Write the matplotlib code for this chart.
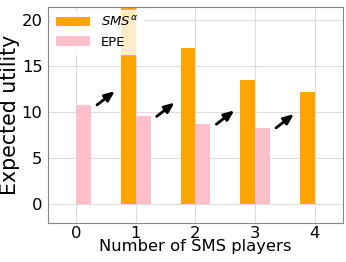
import matplotlib
matplotlib.use("Agg")
import matplotlib.pyplot as plt
import numpy as np

players = [0, 1, 2, 3, 4]
sms_x = [1, 2, 3, 4]
sms_vals = [21.6, 16.9, 13.5, 12.15]
epe_x = [0, 1, 2, 3]
epe_vals = [10.75, 9.5, 8.65, 8.25]

fig = plt.figure(figsize=(3.46, 2.62), dpi=100)
ax = fig.add_axes([0.139, 0.149, 0.852, 0.824])

w = 0.25
ax.bar(np.array(sms_x) - w, sms_vals, width=w, align='edge', color='orange', label=r'$SMS^{\alpha}$', zorder=2)
ax.bar(epe_x, epe_vals, width=w, align='edge', color='pink', label='EPE', zorder=2)

for x0, y0 in zip(epe_x, epe_vals):
    ax.annotate('', xy=(x0 + 0.65, y0 + 1.5), xytext=(x0 + 0.35, y0),
                arrowprops=dict(arrowstyle='-|>,head_width=0.25,head_length=0.6', color='black',
                                lw=2.0, mutation_scale=10, shrinkA=0, shrinkB=0), zorder=3)

ax.set_xlim(-0.47, 4.47)
ax.set_ylim(-2.1, 21.4)
ax.set_xticks(players)
ax.set_yticks([0, 5, 10, 15, 20])
ax.tick_params(labelsize=11.8, length=0, pad=4)
ax.tick_params(axis='x', pad=2)
ax.grid(True, color='#dddddd', lw=0.8, zorder=0)
ax.set_axisbelow(True)
for s in ax.spines.values():
    s.set_color('#888888')
ax.set_xlabel('Number of SMS players', fontsize=11.8, labelpad=-1)
ax.set_ylabel('Expected utility', fontsize=14.8, labelpad=1)
leg = ax.legend(loc='upper left', fontsize=9.5, framealpha=0.8, edgecolor='white',
                handlelength=2.6, borderaxespad=0.2)
fig.savefig('out.png', dpi=100)
